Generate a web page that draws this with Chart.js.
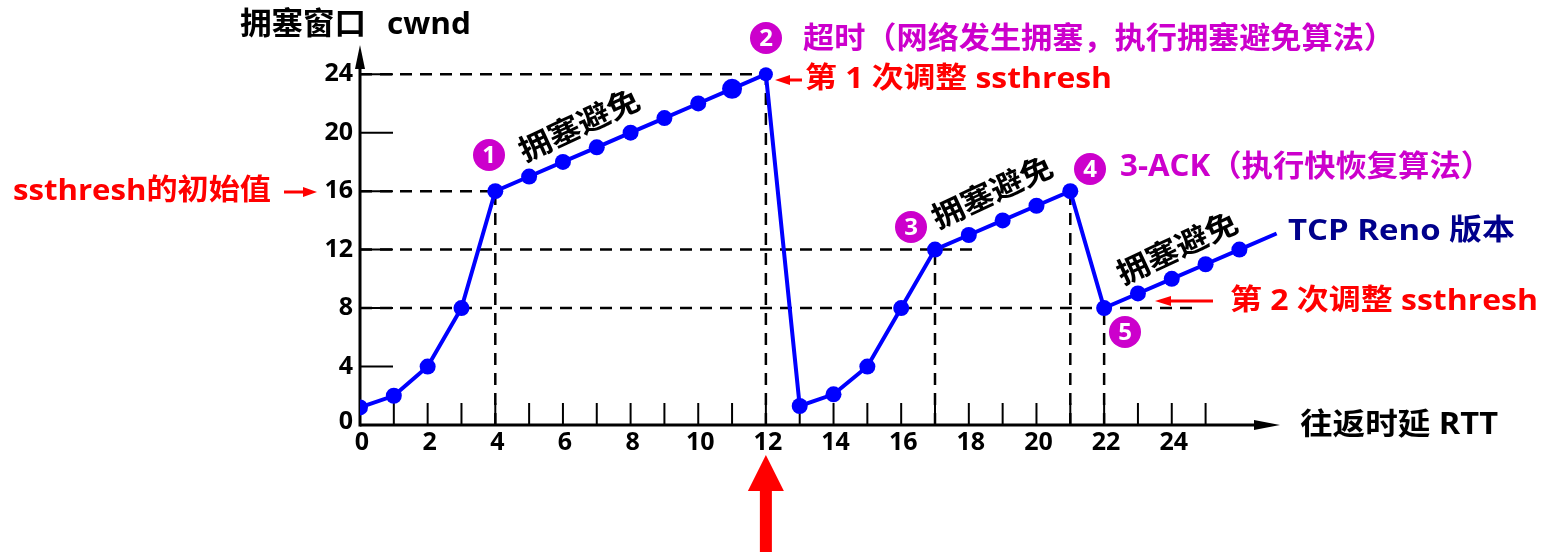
<!DOCTYPE html>
<html>
<head>
<meta charset="utf-8">
<script src="https://cdn.jsdelivr.net/npm/chart.js@4/dist/chart.umd.min.js"></script>
<style>
html,body{margin:0;padding:0;background:#fff;}
#wrap{width:1543px;height:554px;}
</style>
</head>
<body>
<div id="wrap"><canvas id="c" width="1543" height="554"></canvas></div>
<script>
// ---- data ----
const rtt  = [0,1,2,3,4,5,6,7,8,9,10,11,12,13,14,15,16,17,18,19,20,21,22,23,24,25,26,27.1];
const cwnd = [1.2,2,4,8,16,17,18,19,20,21,22,23,24,1.3,2.1,4,8,12,13,14,15,16,8,9,10,11,12,13.1];
const xTickLabels = [0,2,4,6,8,10,12,14,16,18,20,22,24];
const xMinorTicks = [1,2,3,4,5,6,7,8,9,10,11,12,13,14,15,16,17,18,19,20,21,22,23,24,25];
const yTickLabels = [0,4,8,12,16,20,24];
// guide lines [x1,y1,x2,y2]
const guideH = [[0,24,12,24],[0,16,4,16],[0,12,18.15,12],[0,8,24.6,8]];
const guideV = [[4,0,4,16],[12,0,12,24],[17,0,17,12],[21,0,21,16],[22,0,22,8]];
const phaseLabels = ['拥塞避免','拥塞避免','拥塞避免'];

const FONT = '"Open Sans","Noto Sans CJK SC","Noto Sans",sans-serif';
const MAGENTA = '#CC00CC';
const RED = '#FF0000';

const pointR = rtt.map((x,i)=> i===rtt.length-1 ? 0 : (i===11 ? 10 : (i===12 ? 7 : 8)));

const guideSets = guideH.concat(guideV).map(g => ({
  data: [{x:g[0],y:g[1]},{x:g[2],y:g[3]}],
  borderColor:'#000', borderWidth:2.5, borderDash:[12,8],
  pointRadius:0, fill:false, order:2, tension:0
}));

function arrowHead(ctx, tipX, tipY, dir, len, half, color){
  ctx.save();ctx.fillStyle=color;ctx.beginPath();
  if(dir==='up'){ctx.moveTo(tipX,tipY);ctx.lineTo(tipX-half,tipY+len);ctx.lineTo(tipX+half,tipY+len);}
  else if(dir==='right'){ctx.moveTo(tipX,tipY);ctx.lineTo(tipX-len,tipY-half);ctx.lineTo(tipX-len,tipY+half);}
  else if(dir==='left'){ctx.moveTo(tipX,tipY);ctx.lineTo(tipX+len,tipY-half);ctx.lineTo(tipX+len,tipY+half);}
  ctx.closePath();ctx.fill();ctx.restore();
}
function circleNum(ctx,x,y,n){
  ctx.save();ctx.fillStyle=MAGENTA;ctx.beginPath();ctx.arc(x,y,16,0,Math.PI*2);ctx.fill();
  ctx.fillStyle='#fff';ctx.font='bold 24px '+FONT;ctx.textAlign='center';ctx.textBaseline='middle';
  ctx.fillText(String(n),x,y+1);ctx.restore();
}
function txt(ctx,s,x,y,size,color,align){
  ctx.save();ctx.font='bold '+size+'px '+FONT;ctx.fillStyle=color;ctx.textAlign=align||'left';ctx.textBaseline='middle';
  ctx.fillText(s,x,y);ctx.restore();
}
// left-aligned text stretched horizontally to span x1..x2
function txtFit(ctx,s,x1,x2,y,size,color){
  ctx.save();ctx.font='bold '+size+'px '+FONT;ctx.fillStyle=color;ctx.textAlign='left';ctx.textBaseline='middle';
  const w=ctx.measureText(s).width;const k=(x2-x1)/w;
  ctx.translate(x1,y);ctx.scale(k,1);ctx.fillText(s,0,0);ctx.restore();
}

const axesPlugin = {
  id:'axesPlugin',
  beforeDatasetsDraw(chart){
    const ctx=chart.ctx, xs=chart.scales.x, ys=chart.scales.y;
    const x0=xs.getPixelForValue(0), y0=ys.getPixelForValue(0);
    ctx.save();
    ctx.strokeStyle='#000';
    ctx.lineWidth=3;ctx.beginPath();ctx.moveTo(x0,y0);ctx.lineTo(xs.right-18,y0);ctx.stroke();
    arrowHead(ctx,xs.right,y0,'right',26,5,'#000');
    ctx.beginPath();ctx.moveTo(x0,y0+1.5);ctx.lineTo(x0,ys.top+18);ctx.stroke();
    arrowHead(ctx,x0,ys.top,'up',24,5,'#000');
    ctx.lineWidth=2;
    xMinorTicks.forEach(v=>{const px=xs.getPixelForValue(v);ctx.beginPath();ctx.moveTo(px,y0);ctx.lineTo(px,y0-22);ctx.stroke();});
    yTickLabels.forEach(v=>{if(v===0)return;const py=ys.getPixelForValue(v);ctx.beginPath();ctx.moveTo(x0,py);ctx.lineTo(x0+33,py);ctx.stroke();});
    ctx.restore();
    xTickLabels.forEach(v=>txt(ctx,String(v),xs.getPixelForValue(v)+2,y0+18,25,'#000','center'));
    yTickLabels.forEach(v=>txt(ctx,String(v),x0-7,ys.getPixelForValue(v)-(v===0?3:0),25,'#000','right'));
  },
  afterDatasetsDraw(chart){
    const ctx=chart.ctx, xs=chart.scales.x;
    txtFit(ctx,'拥塞窗口',240,366,25,31,'#000');
    txtFit(ctx,'cwnd',387,471,25,31,'#000');
    txtFit(ctx,'往返时延 RTT',1300,1498,425,30,'#000');
    txtFit(ctx,'ssthresh的初始值',13,271,192,29,RED);
    ctx.save();ctx.strokeStyle=RED;ctx.lineWidth=3;ctx.beginPath();ctx.moveTo(284,192);ctx.lineTo(303,192);ctx.stroke();ctx.restore();
    arrowHead(ctx,317,192,'right',14,5,RED);
    circleNum(ctx,766,38,2);
    txtFit(ctx,'超时（网络发生拥塞，执行拥塞避免算法）',803,1395,39,30,MAGENTA);
    txtFit(ctx,'第 1 次调整 ssthresh',805,1112,80,29,RED);
    ctx.save();ctx.strokeStyle=RED;ctx.lineWidth=3;ctx.beginPath();ctx.moveTo(788,80);ctx.lineTo(802,80);ctx.stroke();ctx.restore();
    arrowHead(ctx,775,80,'left',15,5,RED);
    circleNum(ctx,1090,169,4);
    txtFit(ctx,'3-ACK（执行快恢复算法）',1120,1492,167,30,MAGENTA);
    txtFit(ctx,'TCP Reno 版本',1288,1515,232,29,'#00008B');
    txtFit(ctx,'第 2 次调整 ssthresh',1230,1538,302,29,RED);
    ctx.save();ctx.strokeStyle=RED;ctx.lineWidth=3;ctx.beginPath();ctx.moveTo(1168,301);ctx.lineTo(1213,301);ctx.stroke();ctx.restore();
    arrowHead(ctx,1155,301,'left',16,5,RED);
    circleNum(ctx,489,155,1);
    circleNum(ctx,911,227,3);
    circleNum(ctx,1125,332,5);
    const rot=[[580,127],[993,194],[1178,250]];
    rot.forEach((p,i)=>{ctx.save();ctx.translate(p[0],p[1]);ctx.rotate(-25*Math.PI/180);ctx.scale(1.08,1);txt(ctx,phaseLabels[i],0,0,30,'#000','center');ctx.restore();});
    const ax=xs.getPixelForValue(12);
    ctx.save();ctx.fillStyle=RED;
    ctx.fillRect(ax-6,490,12,62);
    ctx.beginPath();ctx.moveTo(ax,455);ctx.lineTo(ax-18,491);ctx.lineTo(ax+18,491);ctx.closePath();ctx.fill();
    ctx.restore();
  }
};

new Chart(document.getElementById('c'),{
  type:'line',
  data:{datasets:[{
    data: rtt.map((x,i)=>({x:x,y:cwnd[i]})),
    borderColor:'#0000FF', backgroundColor:'#0000FF', borderWidth:4,
    pointRadius:pointR, pointBackgroundColor:'#0000FF', pointBorderWidth:0,
    tension:0, fill:false, order:0
  }].concat(guideSets)},
  options:{
    responsive:false, animation:false, events:[],
    layout:{padding:{left:360,right:263,top:45,bottom:129}},
    plugins:{legend:{display:false},tooltip:{enabled:false},title:{display:false}},
    scales:{
      x:{type:'linear',min:0,max:27.2,display:false},
      y:{type:'linear',min:0,max:26,display:false}
    }
  },
  plugins:[axesPlugin]
});
</script>
</body>
</html>
